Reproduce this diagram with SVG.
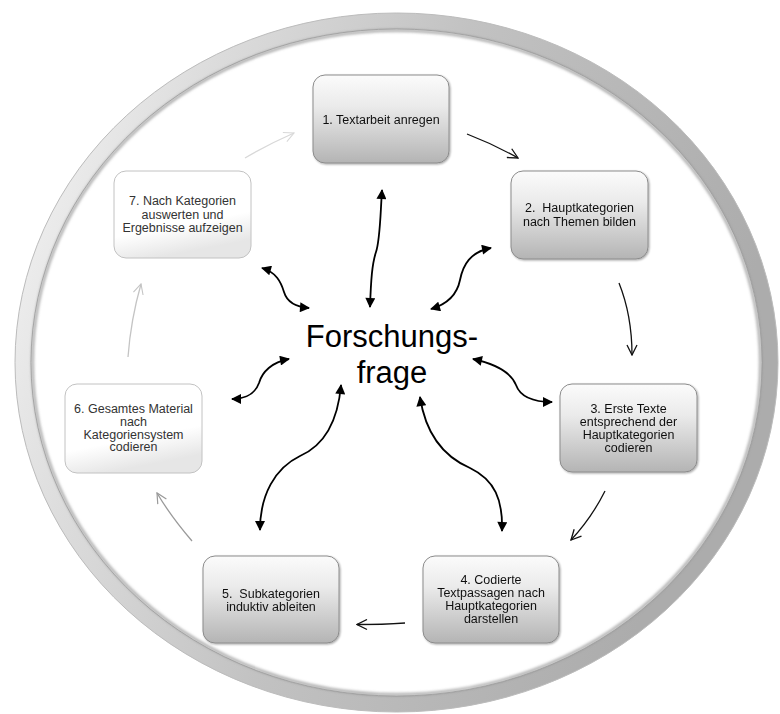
<svg xmlns="http://www.w3.org/2000/svg" width="780" height="714" viewBox="0 0 780 714">
<defs>
  <linearGradient id="ringGrad" x1="0" y1="0" x2="1" y2="0.3">
    <stop offset="0" stop-color="#f7f7f7"/>
    <stop offset="0.25" stop-color="#dcdcdc"/>
    <stop offset="0.55" stop-color="#c2c2c2"/>
    <stop offset="1" stop-color="#acacac"/>
  </linearGradient>
  <linearGradient id="grayBox" x1="0" y1="0" x2="0" y2="1">
    <stop offset="0" stop-color="#fbfbfb"/>
    <stop offset="0.35" stop-color="#ebebeb"/>
    <stop offset="1" stop-color="#b4b4b4"/>
  </linearGradient>
  <linearGradient id="whiteBox" x1="0" y1="0" x2="0.3" y2="1">
    <stop offset="0" stop-color="#ffffff"/>
    <stop offset="0.7" stop-color="#ffffff"/>
    <stop offset="1" stop-color="#e6e6e6"/>
  </linearGradient>
  <filter id="soft" x="-5%" y="-5%" width="110%" height="110%">
    <feGaussianBlur stdDeviation="1.5"/>
  </filter>
  <filter id="shadow" x="-10%" y="-10%" width="120%" height="125%">
    <feGaussianBlur in="SourceAlpha" stdDeviation="1.2"/>
    <feOffset dx="0.5" dy="1" result="b"/>
    <feComponentTransfer><feFuncA type="linear" slope="0.35"/></feComponentTransfer>
    <feMerge><feMergeNode/><feMergeNode in="SourceGraphic"/></feMerge>
  </filter>
  <marker id="fa" viewBox="0 0 10 10" refX="9" refY="5" markerWidth="11" markerHeight="10" markerUnits="userSpaceOnUse" orient="auto-start-reverse">
    <path d="M0,0 L10,5 L0,10 z" fill="#000"/>
  </marker>
  <marker id="oaK" viewBox="0 0 12 12" refX="11" refY="6" markerWidth="12" markerHeight="12" markerUnits="userSpaceOnUse" orient="auto">
    <path d="M1,1 L11,6 L1,11" fill="none" stroke="#111" stroke-width="1.3"/>
  </marker>
  <marker id="oaG" viewBox="0 0 12 12" refX="11" refY="6" markerWidth="12" markerHeight="12" markerUnits="userSpaceOnUse" orient="auto">
    <path d="M1,1 L11,6 L1,11" fill="none" stroke="#9a9a9a" stroke-width="1.2"/>
  </marker>
  <marker id="oaL" viewBox="0 0 12 12" refX="11" refY="6" markerWidth="12" markerHeight="12" markerUnits="userSpaceOnUse" orient="auto">
    <path d="M1,1 L11,6 L1,11" fill="none" stroke="#c4c4c4" stroke-width="1.1"/>
  </marker>
  <marker id="oaX" viewBox="0 0 12 12" refX="11" refY="6" markerWidth="12" markerHeight="12" markerUnits="userSpaceOnUse" orient="auto">
    <path d="M1,1 L11,6 L1,11" fill="none" stroke="#d8d8d8" stroke-width="1.1"/>
  </marker>
</defs>
<style>
  .box-g { fill: url(#grayBox); stroke: #8c8c8c; stroke-width: 1; }
  .box-w { fill: url(#whiteBox); stroke: #c2c2c2; stroke-width: 1; }
  .lbl { font-family: "Liberation Sans", Arial, sans-serif; font-size: 12.5px; fill: #111; text-anchor: middle; white-space: pre; }
  .lbl-w { fill: #333; }
  .center { font-family: "Liberation Sans", Arial, sans-serif; font-size: 31px; fill: #000; text-anchor: middle; }
  .bi { fill: none; stroke: #000; stroke-width: 1.8; marker-start: url(#fa); marker-end: url(#fa); }
  .cyc { fill: none; stroke-width: 1.3; }
</style>
<rect width="780" height="714" fill="#fff"/>

<g id="ring">
  <ellipse cx="396.5" cy="362.5" rx="373.5" ry="341.5" fill="none" stroke="url(#ringGrad)" stroke-width="16"/>
  <ellipse cx="396.5" cy="362.5" rx="381.5" ry="349.5" fill="none" stroke="#bcbcbc" stroke-width="1"/>
  <ellipse cx="396.5" cy="362.5" rx="364" ry="332" fill="none" stroke="#8a8a8a" stroke-width="2" filter="url(#soft)"/>
  <ellipse cx="396.5" cy="362.5" rx="365.5" ry="333.5" fill="none" stroke="#9a9a9a" stroke-width="0.8"/>
</g>

<g id="center">
  <text class="center" x="392" y="347">Forschungs-</text>
  <text class="center" x="392" y="383">frage</text>
</g>

<g id="node1" filter="url(#shadow)">
  <rect class="box-g" x="313" y="75" width="136" height="88" rx="12"/>
  <text class="lbl" x="381" y="123.5">1. Textarbeit anregen</text>
</g>
<g id="node2" filter="url(#shadow)">
  <rect class="box-g" x="511" y="171" width="137" height="88" rx="12"/>
  <text class="lbl" x="579.5" y="211.5">2.  Hauptkategorien</text>
  <text class="lbl" x="579.5" y="225.5">nach Themen bilden</text>
</g>
<g id="node3" filter="url(#shadow)">
  <rect class="box-g" x="560" y="384" width="137" height="88" rx="12"/>
  <text class="lbl" x="628.5" y="412.5">3. Erste Texte</text>
  <text class="lbl" x="628.5" y="425.5">entsprechend der</text>
  <text class="lbl" x="628.5" y="438.5">Hauptkategorien</text>
  <text class="lbl" x="628.5" y="451.5">codieren</text>
</g>
<g id="node4" filter="url(#shadow)">
  <rect class="box-g" x="423" y="556" width="136" height="87" rx="12"/>
  <text class="lbl" x="491" y="584">4. Codierte</text>
  <text class="lbl" x="491" y="597">Textpassagen nach</text>
  <text class="lbl" x="491" y="610">Hauptkategorien</text>
  <text class="lbl" x="491" y="622.5">darstellen</text>
</g>
<g id="node5" filter="url(#shadow)">
  <rect class="box-g" x="203" y="556" width="136" height="87" rx="12"/>
  <text class="lbl" x="271" y="597.5">5.  Subkategorien</text>
  <text class="lbl" x="271" y="610.5">induktiv ableiten</text>
</g>
<g id="node6">
  <rect class="box-w" x="65" y="384" width="137" height="89" rx="12"/>
  <text class="lbl lbl-w" x="133.5" y="413">6. Gesamtes Material</text>
  <text class="lbl lbl-w" x="133.5" y="425.5">nach</text>
  <text class="lbl lbl-w" x="133.5" y="438.5">Kategoriensystem</text>
  <text class="lbl lbl-w" x="133.5" y="451">codieren</text>
</g>
<g id="node7">
  <rect class="box-w" x="114" y="171" width="137" height="87" rx="12"/>
  <text class="lbl lbl-w" x="182.5" y="205">7. Nach Kategorien</text>
  <text class="lbl lbl-w" x="182.5" y="218.5">auswerten und</text>
  <text class="lbl lbl-w" x="182.5" y="232">Ergebnisse aufzeigen</text>
</g>

<g id="connectors">
  <!-- cycle arrows -->
  <path class="cyc" stroke="#111" marker-end="url(#oaK)" d="M467,134 Q493,144 518,158"/>
  <path class="cyc" stroke="#111" marker-end="url(#oaK)" d="M619,283 C627,303 632,325 632,355"/>
  <path class="cyc" stroke="#111" marker-end="url(#oaK)" d="M605,491 C596,509 585,525 571,540"/>
  <path class="cyc" stroke="#111" marker-end="url(#oaK)" d="M405,623 C390,624 372,624.5 357,624.5"/>
  <path class="cyc" stroke="#9a9a9a" stroke-width="1.2" marker-end="url(#oaG)" d="M192,541 C180,527 167,510 157,493"/>
  <path class="cyc" stroke="#c4c4c4" stroke-width="1.1" marker-end="url(#oaL)" d="M128,357 C130,330 135,305 141,284"/>
  <path class="cyc" stroke="#d8d8d8" stroke-width="1.1" marker-end="url(#oaX)" d="M245,158 C262,148 278,140 294,133"/>
  <!-- bidirectional arrows -->
  <path class="bi" d="M382,190 C380,222 380,240 376,252 C372,264 371,280 370,307"/>
  <path class="bi" d="M491,248 C470,252 463,265 460,280 C457,295 448,304 431,309"/>
  <path class="bi" d="M473,359 C500,365 512,375 516,385 C520,396 532,402 552,402"/>
  <path class="bi" d="M420,397 C425,430 440,455 470,468 C495,480 503,500 502,531"/>
  <path class="bi" d="M341,385 C338,420 325,445 300,456 C275,468 260,495 260,530"/>
  <path class="bi" d="M289,359 C272,362 262,372 259,383 C255,394 245,399 232,399"/>
  <path class="bi" d="M262,268 C276,272 281,282 284,292 C287,302 296,307 309,308"/>
</g>
</svg>
